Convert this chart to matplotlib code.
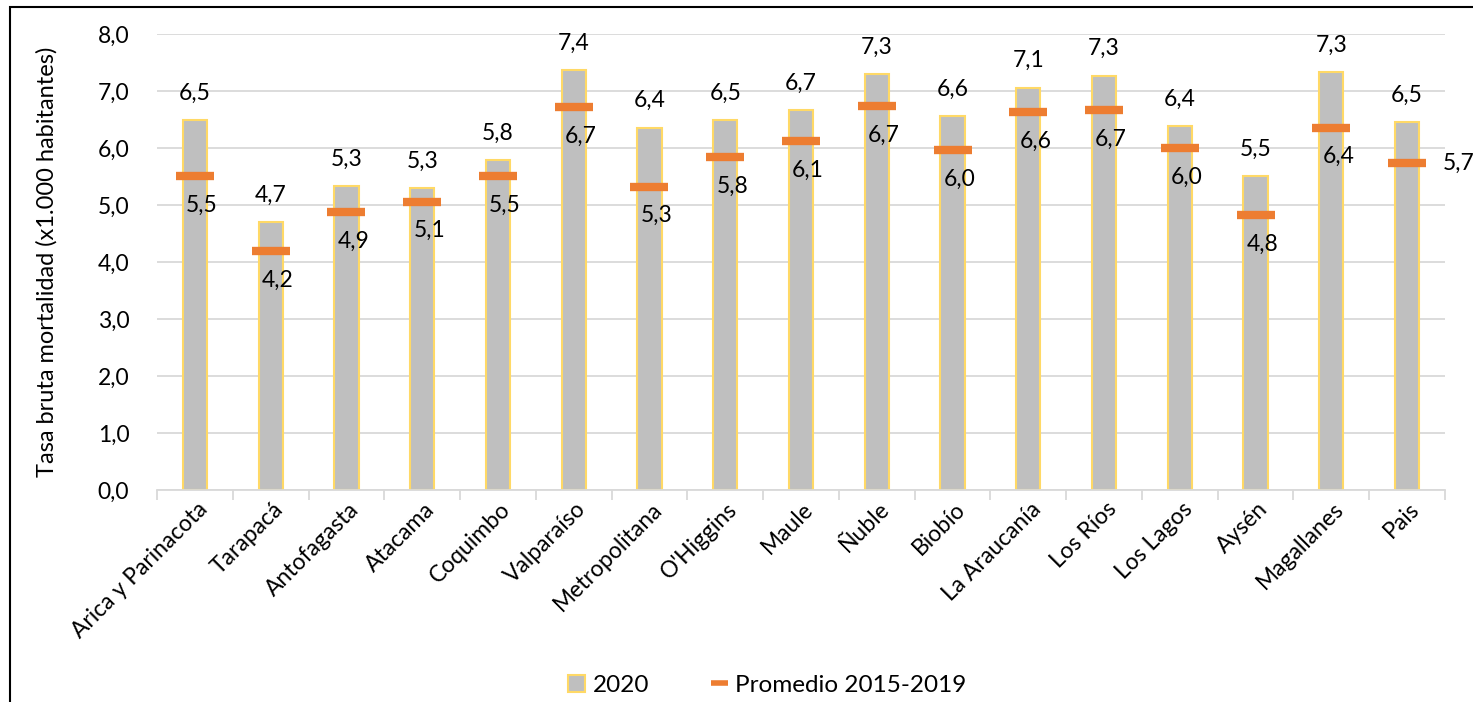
import numpy as np
import matplotlib
matplotlib.use('Agg')
import matplotlib.pyplot as plt
from matplotlib.patches import Rectangle, Patch
from matplotlib.lines import Line2D

plt.rcParams['font.family'] = ['Lato', 'DejaVu Sans']

regiones = ['Arica y Parinacota', 'Tarapacá', 'Antofagasta', 'Atacama', 'Coquimbo',
            'Valparaíso', 'Metropolitana', "O'Higgins", 'Maule', 'Ñuble', 'Biobío',
            'La Araucanía', 'Los Ríos', 'Los Lagos', 'Aysén', 'Magallanes', 'Pais']
tasa_2020 = [6.49, 4.70, 5.33, 5.30, 5.79, 7.37, 6.36, 6.49, 6.67, 7.30, 6.56,
             7.06, 7.27, 6.39, 5.51, 7.33, 6.46]
promedio = [5.51, 4.19, 4.88, 5.06, 5.51, 6.72, 5.32, 5.84, 6.12, 6.74, 5.96,
            6.63, 6.67, 6.00, 4.82, 6.36, 5.74]
yticks = [0, 1, 2, 3, 4, 5, 6, 7, 8]


def coma(v):
    return f'{v:.1f}'.replace('.', ',')


fig = plt.figure(figsize=(14.73, 7.02), dpi=100)
ax = fig.add_axes([0.1066, 0.302, 0.8744, 0.6494])

x = np.arange(len(regiones))
ax.bar(x, tasa_2020, width=0.32, color='#BFBFBF', edgecolor='#FFD966',
       linewidth=1.5, zorder=2)
ax.plot(x, promedio, ls='none', marker='_', ms=27, mew=6, color='#ED7D31',
        zorder=3)

for i, v in enumerate(tasa_2020):
    ax.annotate(coma(v), (x[i], v), xytext=(0, 27), textcoords='offset pixels',
                ha='center', va='center', fontsize=16.5)
for i, v in enumerate(promedio):
    if i == len(promedio) - 1:
        off = (52, 0)
    else:
        off = (7, -29)
    ax.annotate(coma(v), (x[i], v), xytext=off, textcoords='offset pixels',
                ha='center', va='center', fontsize=16.5)

ax.set_xlim(-0.5, len(regiones) - 0.5)
ax.set_ylim(0, 8)
ax.set_yticks(yticks)
ax.set_yticklabels([coma(t) for t in yticks], fontsize=16.5)
ax.tick_params(axis='y', length=0, pad=20)
ax.grid(axis='y', color='#D9D9D9', linewidth=1.3, zorder=0)
ax.set_axisbelow(True)

# category labels drawn by hand so they can sit a little right of the centre
ax.set_xticks([])
for i, nombre in enumerate(regiones):
    ax.annotate(nombre, (x[i], 0), xycoords=('data', 'axes fraction'),
                xytext=(9, -16), textcoords='offset pixels', rotation=45,
                ha='right', va='center', rotation_mode='anchor', fontsize=16.5)
ax.set_xticks(np.arange(-0.5, len(regiones)), minor=True)
ax.tick_params(axis='x', which='minor', length=7, color='#D9D9D9', width=1.3)

for s in ['top', 'right', 'left']:
    ax.spines[s].set_visible(False)
ax.spines['bottom'].set_color('#D9D9D9')
ax.spines['bottom'].set_linewidth(1.3)

ax.set_ylabel('Tasa bruta mortalidad (x1.000 habitantes)', fontsize=17, labelpad=29)

handles = [Patch(facecolor='#BFBFBF', edgecolor='#FFD966', linewidth=1.5),
           Line2D([], [], color='#ED7D31', lw=4, solid_capstyle='butt')]
fig.legend(handles, ['2020', 'Promedio 2015-2019'], loc='center',
           bbox_to_anchor=(0.521, 0.024), ncol=2, frameon=False,
           fontsize=17.5, columnspacing=2.55, handlelength=0.7, handleheight=0.7,
           handletextpad=0.3)

fig.add_artist(Rectangle((10 / 1473, -0.1), 1.2, 1.09,
                         transform=fig.transFigure, fill=False,
                         edgecolor='black', linewidth=1.5, clip_on=False))

fig.savefig('out.png', dpi=100)
